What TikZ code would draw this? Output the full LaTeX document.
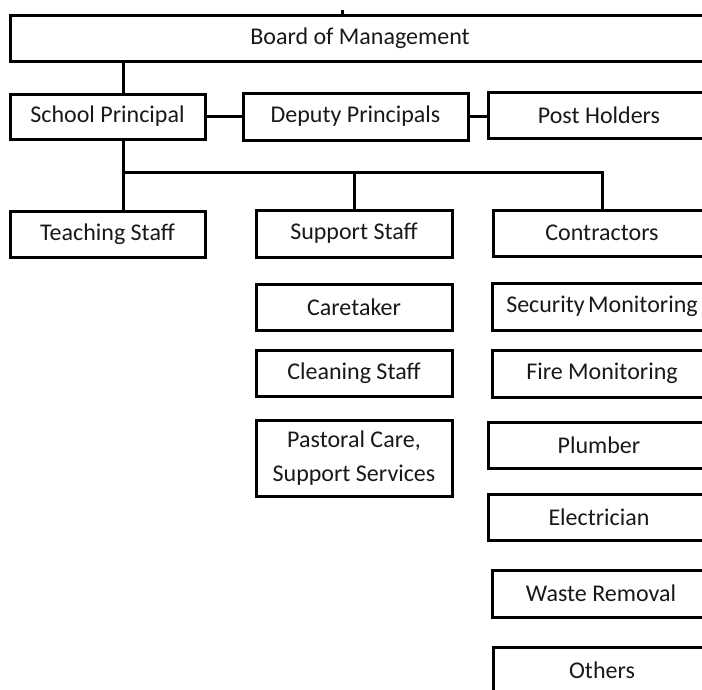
\documentclass[tikz,border=0pt]{standalone}
\usepackage{fontspec}
\setmainfont{Carlito}
\begin{document}
\begin{tikzpicture}[x=1pt,y=-1pt,
  box/.style={draw=black,line width=3pt,rectangle,inner sep=0pt,align=center,
    font=\fontsize{24}{34}\selectfont,text=black!90},
  conn/.style={draw=black,line width=3pt}]
\clip (0,0) rectangle (702,689);
\fill[white] (0,0) rectangle (702,689);
% top row
\node[box,minimum width=700pt,minimum height=46pt] (board) at (360,38) {Board of Management};
\node[box,minimum width=195pt,minimum height=45pt] (sp) at (107.5,116.5) {School Principal};
\node[box,minimum width=225pt,minimum height=47pt] (dp) at (355.5,116.5) {Deputy Principals};
\node[box,minimum width=222pt,minimum height=46pt] (ph) at (599,115) {Post Holders};
% second row
\node[box,minimum width=195pt,minimum height=46pt] (teach) at (107.5,234) {Teaching Staff};
\node[box,minimum width=196pt,minimum height=47pt] (support) at (354,233.5) {Support Staff};
\node[box,minimum width=218pt,minimum height=46pt] (contr) at (602,233) {Contractors};
% support column
\node[box,minimum width=196pt,minimum height=46pt] (care) at (354,307) {Caretaker};
\node[box,minimum width=196pt,minimum height=46pt] (clean) at (354,373) {Cleaning Staff};
\node[box,minimum width=196pt,minimum height=76pt] (past) at (354,458) {Pastoral Care,\\Support Services};
% contractors column
\node[box,minimum width=220pt,minimum height=47pt] (sec) at (602,306.5) {Security\hspace{-2pt} Monitoring};
\node[box,minimum width=220pt,minimum height=47pt] (fire) at (602,373.5) {Fire Monitoring};
\node[box,minimum width=222pt,minimum height=46pt] (plumb) at (599,445) {Plumber};
\node[box,minimum width=222pt,minimum height=46pt] (elec) at (599,517) {Electrician};
\node[box,minimum width=218pt,minimum height=47pt] (waste) at (601,593.5) {Waste Removal};
\node[box,minimum width=218pt,minimum height=46pt] (others) at (602,670) {Others};
% connectors
\coordinate (topstub) at (342,10);
\coordinate (bus) at (123,172);
\draw[conn] (topstub) -- (topstub |- board.north);
\draw[conn] (board.south -| bus) -- (sp.north -| bus);
\draw[conn] (sp.east) -- (dp.west);
\draw[conn] (dp.east) -- (dp.east -| ph.west);
\draw[conn] (sp.south -| bus) -- (teach.north -| bus);
\draw[conn] (bus) -| (contr.north);
\draw[conn] (bus -| support.north) -- (support.north);
\end{tikzpicture}
\end{document}
